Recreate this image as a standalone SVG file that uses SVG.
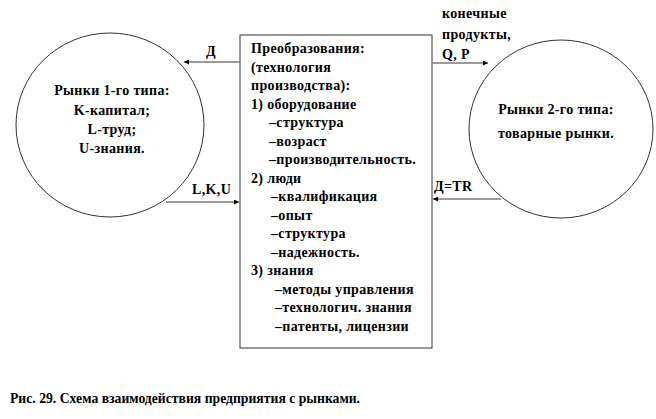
<svg xmlns="http://www.w3.org/2000/svg" width="656" height="419" viewBox="0 0 656 419">
<style>
text{font-family:'Liberation Serif','DejaVu Serif','Times New Roman',serif;font-weight:bold;font-size:14px;letter-spacing:0.35px;fill:#000}
.c{text-anchor:middle}
.cap{font-size:13.7px;letter-spacing:0}
.shape{fill:#fff;stroke:#333;stroke-width:1}
.conn{stroke:#7a7a7a;stroke-width:1.6;fill:none}
</style>
<defs>
<marker id="ah" viewBox="0 0 10 10" refX="10" refY="5" markerWidth="7" markerHeight="5" markerUnits="userSpaceOnUse" orient="auto">
<path d="M0,0 L10,5 L0,10 z" fill="#000"/>
</marker>
</defs>
<rect width="656" height="419" fill="#fff"/>
<g id="market1">
<ellipse class="shape" cx="110" cy="125" rx="94" ry="92"/>
<text class="c" x="112" y="95">Рынки 1-го типа:</text>
<text class="c" x="112" y="115">K-капитал;</text>
<text class="c" x="112" y="134">L-труд;</text>
<text class="c" x="112" y="153">U-знания.</text>
</g>
<g id="transform">
<rect class="shape" x="240" y="35" width="192" height="313"/>
<text x="251" y="53">Преобразования:</text>
<text x="251" y="71.5">(технология</text>
<text x="251" y="90">производства):</text>
<text x="251" y="108.5">1) оборудование</text>
<text x="269" y="127">–структура</text>
<text x="269" y="145.5">–возраст</text>
<text x="269" y="164">–производительность.</text>
<text x="251" y="182.5">2) люди</text>
<text x="271" y="201">–квалификация</text>
<text x="271" y="219.5">–опыт</text>
<text x="271" y="238">–структура</text>
<text x="271" y="256.5">–надежность.</text>
<text x="251" y="275">3) знания</text>
<text x="275" y="293.5">–методы управления</text>
<text x="275" y="312">–технологич. знания</text>
<text x="275" y="330.5">–патенты, лицензии</text>
</g>
<g id="market2">
<ellipse class="shape" cx="561" cy="129" rx="92" ry="89"/>
<text class="c" x="556" y="114">Рынки 2-го типа:</text>
<text class="c" x="556" y="138">товарные рынки.</text>
</g>
<g id="connectors">
<line class="conn" x1="240" y1="62" x2="184" y2="62" marker-end="url(#ah)"/>
<text x="206" y="56">Д</text>
<line class="conn" x1="166" y1="202" x2="239" y2="202" marker-end="url(#ah)"/>
<text x="192" y="194">L,K,U</text>
<line class="conn" x1="432" y1="63" x2="488" y2="63" marker-end="url(#ah)"/>
<text x="442" y="18">конечные</text>
<text x="442" y="39">продукты,</text>
<text x="442" y="59">Q, P</text>
<line class="conn" x1="501" y1="199" x2="433" y2="199" marker-end="url(#ah)"/>
<text x="434" y="191">Д=TR</text>
</g>
<text class="cap" x="10" y="403">Рис. 29. Схема взаимодействия предприятия с рынками.</text>
</svg>
